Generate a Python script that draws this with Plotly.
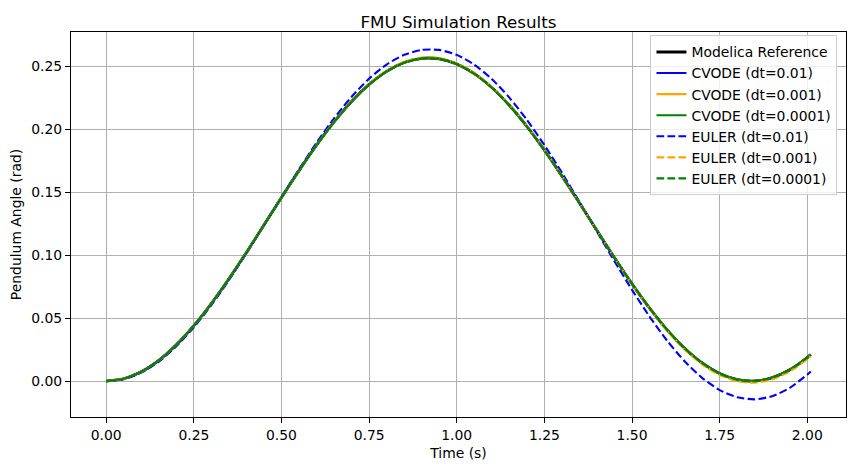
import plotly.graph_objects as go

time_s = [0.00, 0.05, 0.10, 0.15, 0.20, 0.25, 0.30, 0.35, 0.40, 0.45,
          0.50, 0.55, 0.60, 0.65, 0.70, 0.75, 0.80, 0.85, 0.90, 0.95,
          1.00, 1.05, 1.10, 1.15, 1.20, 1.25, 1.30, 1.35, 1.40, 1.45,
          1.50, 1.55, 1.60, 1.65, 1.70, 1.75, 1.80, 1.85, 1.90, 1.95,
          2.00, 2.01]

modelica_ref = [0.0, 0.001863, 0.007398, 0.016445, 0.028753, 0.043946, 0.061589, 0.081167, 0.102116, 0.123822,
                0.145657, 0.166986, 0.187181, 0.205664, 0.221894, 0.235400, 0.245786, 0.252757, 0.256101, 0.255728,
                0.251646, 0.243975, 0.232937, 0.218852, 0.202130, 0.183261, 0.162788, 0.141311, 0.119452, 0.097846,
                0.077125, 0.057887, 0.040697, 0.026049, 0.014373, 0.006006, 0.001194, 0.000074, 0.002679, 0.008938,
                0.018662, 0.021000]

cvode_001 = [0.0, 0.001863, 0.007398, 0.016445, 0.028753, 0.043946, 0.061589, 0.081167, 0.102116, 0.123822,
             0.145657, 0.166986, 0.187181, 0.205664, 0.221894, 0.235400, 0.245786, 0.252757, 0.256101, 0.255728,
             0.251646, 0.243975, 0.232937, 0.218852, 0.202130, 0.183261, 0.162788, 0.141311, 0.119452, 0.097846,
             0.077125, 0.057887, 0.040697, 0.026049, 0.014373, 0.006006, 0.001194, 0.000074, 0.002679, 0.008938,
             0.018662, 0.021000]

cvode_0001 = [0.0, 0.001863, 0.007398, 0.016445, 0.028753, 0.043946, 0.061589, 0.081167, 0.102116, 0.123822,
              0.145657, 0.166986, 0.187181, 0.205664, 0.221894, 0.235400, 0.245786, 0.252757, 0.256101, 0.255728,
              0.251646, 0.243975, 0.232937, 0.218852, 0.202130, 0.183261, 0.162788, 0.141311, 0.119452, 0.097846,
              0.077125, 0.057887, 0.040697, 0.026049, 0.014373, 0.006006, 0.001194, 0.000074, 0.002679, 0.008938,
              0.018662, 0.021000]

cvode_00001 = [0.0, 0.001863, 0.007398, 0.016445, 0.028753, 0.043946, 0.061589, 0.081167, 0.102116, 0.123822,
               0.145657, 0.166986, 0.187181, 0.205664, 0.221894, 0.235400, 0.245786, 0.252757, 0.256101, 0.255728,
               0.251646, 0.243975, 0.232937, 0.218852, 0.202130, 0.183261, 0.162788, 0.141311, 0.119452, 0.097846,
               0.077125, 0.057887, 0.040697, 0.026049, 0.014373, 0.006006, 0.001194, 0.000074, 0.002679, 0.008938,
               0.018662, 0.021000]

euler_001 = [0.0, 0.001493, 0.006687, 0.015452, 0.027565, 0.042675, 0.060366, 0.080135, 0.101422, 0.123609,
             0.146060, 0.168118, 0.189133, 0.208492, 0.225620, 0.240003, 0.251204, 0.258882, 0.262786, 0.262786,
             0.258855, 0.251088, 0.239686, 0.224962, 0.207326, 0.187277, 0.165383, 0.142274, 0.118615, 0.095094,
             0.072401, 0.051198, 0.032117, 0.015722, 0.002512, -0.007113, -0.012848, -0.014506, -0.012014, -0.005417,
             0.005112, 0.007667]

euler_0001 = [0.0, 0.001826, 0.007328, 0.016347, 0.028637, 0.043823, 0.061473, 0.081071, 0.102055, 0.123811,
              0.145708, 0.167110, 0.187387, 0.205957, 0.222276, 0.235868, 0.246334, 0.253374, 0.256772, 0.256434,
              0.252365, 0.244683, 0.233608, 0.219459, 0.202647, 0.183662, 0.163050, 0.141414, 0.119381, 0.097590,
              0.076678, 0.057252, 0.039881, 0.025067, 0.013245, 0.004760, -0.000138, -0.001307, 0.001290, 0.007583,
              0.017386, 0.019745]

euler_00001 = [0.0, 0.001859, 0.007391, 0.016435, 0.028741, 0.043934, 0.061577, 0.081157, 0.102110, 0.123821,
               0.145662, 0.166998, 0.187202, 0.205693, 0.221932, 0.235447, 0.245841, 0.252819, 0.256168, 0.255799,
               0.251718, 0.244046, 0.233004, 0.218913, 0.202182, 0.183301, 0.162814, 0.141321, 0.119445, 0.097820,
               0.077080, 0.057823, 0.040615, 0.025951, 0.014260, 0.005881, 0.001061, -0.000064, 0.002540, 0.008802,
               0.018534, 0.020874]

x_ticks = [0.0, 0.25, 0.5, 0.75, 1.0, 1.25, 1.5, 1.75, 2.0]
y_ticks = [0.0, 0.05, 0.10, 0.15, 0.20, 0.25]

DASH = "7.7px,3.3px"
series = [
    ("Modelica Reference", modelica_ref, "black", 2.8, "solid"),
    ("CVODE (dt=0.01)", cvode_001, "blue", 2.1, "solid"),
    ("CVODE (dt=0.001)", cvode_0001, "orange", 2.1, "solid"),
    ("CVODE (dt=0.0001)", cvode_00001, "green", 2.1, "solid"),
    ("EULER (dt=0.01)", euler_001, "blue", 2.1, DASH),
    ("EULER (dt=0.001)", euler_0001, "orange", 2.1, DASH),
    ("EULER (dt=0.0001)", euler_00001, "green", 2.1, DASH),
]

FONT = "DejaVu Sans"
FS = 13.9
fig = go.Figure()
for name, vals, color, width, dash in series:
    fig.add_trace(go.Scatter(
        x=time_s, y=vals, mode="lines", name=name,
        line=dict(color=color, width=width, dash=dash, shape="spline", smoothing=0.6),
    ))

axis_common = dict(
    showline=True, linecolor="black", linewidth=1.1, mirror=True,
    ticks="outside", ticklen=5, tickwidth=1.1, tickcolor="black",
    showgrid=True, gridcolor="#b0b0b0", gridwidth=1.1,
    zeroline=False, tickfont=dict(family=FONT, size=FS, color="black"),
)

fig.update_layout(
    width=855, height=470,
    margin=dict(l=71, r=9, t=32, b=53, autoexpand=False),
    paper_bgcolor="white", plot_bgcolor="white",
    font=dict(family=FONT, size=FS, color="black"),
    title=dict(text="FMU Simulation Results", x=0.5, xref="paper",
               y=(470 - 28) / 470, yref="container", yanchor="bottom",
               font=dict(family=FONT, size=16.7, color="black")),
    xaxis=dict(range=[-0.1005, 2.1105], tickvals=x_ticks, tickformat=".2f",
               title=dict(text="Time (s)", standoff=6, font=dict(family=FONT, size=FS)),
               **axis_common),
    yaxis=dict(range=[-0.0285, 0.2770], tickvals=y_ticks, tickformat=".2f",
               title=dict(text="Pendulum Angle (rad)", standoff=6, font=dict(family=FONT, size=FS)),
               **axis_common),
    legend=dict(x=0.989, y=0.991, xanchor="right", yanchor="top",
                bgcolor="rgba(255,255,255,0.8)", bordercolor="#cccccc", borderwidth=1,
                font=dict(family=FONT, size=FS), traceorder="normal"),
    showlegend=True,
)

fig.write_html("out.html")
